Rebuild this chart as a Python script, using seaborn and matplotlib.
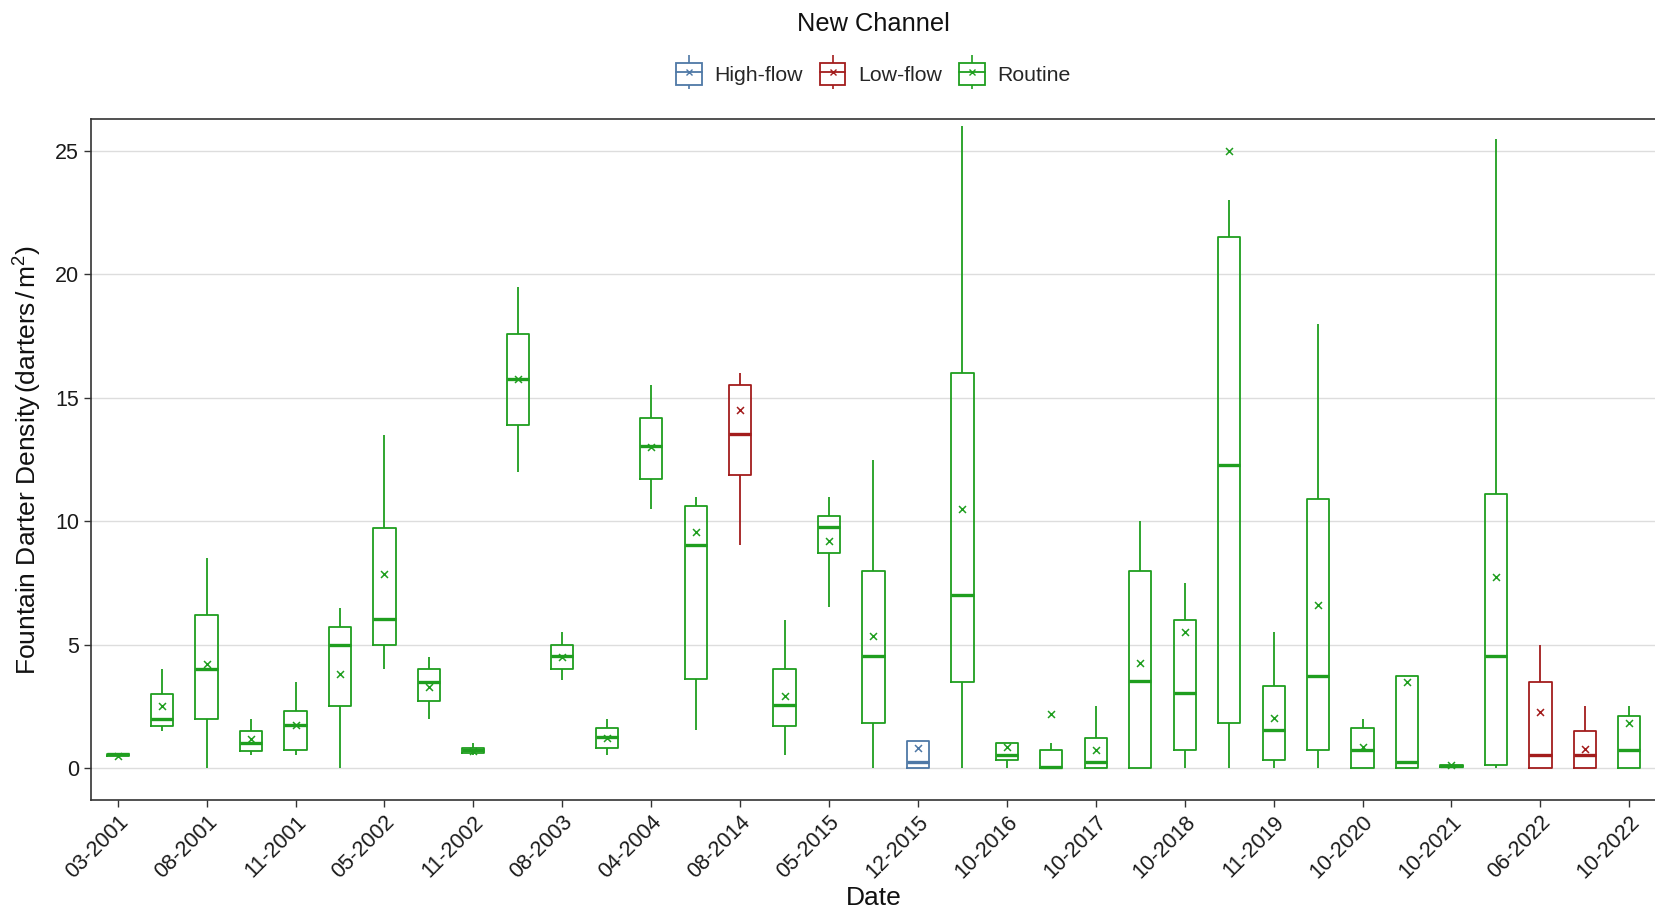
import numpy as np
import pandas as pd
import matplotlib
matplotlib.use("Agg")
import matplotlib.pyplot as plt
from matplotlib.patches import Patch
from matplotlib.lines import Line2D
from matplotlib.legend_handler import HandlerTuple
import seaborn as sns

dates = ["03-2001", "05-2001", "08-2001", "10-2001", "11-2001", "03-2002", "05-2002",
         "08-2002", "11-2002", "03-2003", "08-2003", "11-2003", "04-2004", "10-2004",
         "08-2014", "10-2014", "05-2015", "08-2015", "12-2015", "05-2016", "10-2016",
         "05-2017", "10-2017", "05-2018", "10-2018", "05-2019", "11-2019", "05-2020",
         "10-2020", "05-2021", "10-2021", "04-2022", "06-2022", "08-2022", "10-2022"]
sample_type = ["Routine"] * 14 + ["Low-flow"] + ["Routine"] * 3 + ["High-flow"] + \
              ["Routine"] * 13 + ["Low-flow", "Low-flow", "Routine"]

lows =    [0.45, 1.5, 0.0, 0.53, 0.53, 0.0, 4.0, 2.0, 0.53, 12.0, 3.55, 0.54, 10.5, 1.54,
           9.04, 0.53, 6.54, 0.0, 0.0, 0.0, 0.0, 0.0, 0.0, 0.0, 0.0, 0.0, 0.0, 0.0,
           0.0, 0.0, 0.0, 0.0, 0.0, 0.0, 0.0]
q1s =     [0.50, 1.7, 2.0, 0.70, 0.72, 2.5, 5.0, 2.7, 0.60, 13.9, 4.0, 0.81, 11.7, 3.6,
           11.86, 1.7, 8.73, 1.82, 0.0, 3.47, 0.32, 0.0, 0.0, 0.0, 0.72, 1.82, 0.32, 0.72,
           0.0, 0.0, 0.02, 0.1, 0.0, 0.0, 0.0]
medians = [0.55, 2.0, 4.0, 1.0, 1.75, 5.0, 6.04, 3.5, 0.74, 15.76, 4.54, 1.24, 13.05, 9.04,
           13.53, 2.53, 9.76, 4.53, 0.24, 7.0, 0.53, 0.03, 0.24, 3.51, 3.03, 12.26, 1.53, 3.74,
           0.74, 0.24, 0.07, 4.53, 0.51, 0.51, 0.74]
q3s =     [0.57, 3.0, 6.2, 1.5, 2.3, 5.7, 9.73, 4.0, 0.82, 17.6, 5.0, 1.6, 14.2, 10.6,
           15.5, 4.0, 10.2, 8.0, 1.1, 16.0, 1.0, 0.73, 1.22, 8.0, 6.01, 21.5, 3.34, 10.9,
           1.6, 3.72, 0.1, 11.1, 3.5, 1.5, 2.09]
highs =   [0.60, 4.0, 8.5, 2.0, 3.5, 6.5, 13.5, 4.5, 1.0, 19.5, 5.5, 2.0, 15.5, 11.0,
           16.0, 6.0, 11.0, 12.5, 1.1, 26.0, 1.0, 1.0, 2.5, 10.0, 7.51, 23.0, 5.5, 18.0,
           2.0, 3.72, 0.12, 25.5, 5.0, 2.5, 2.5]
means =   [0.47, 2.5, 4.2, 1.18, 1.75, 3.8, 7.85, 3.3, 0.7, 15.76, 4.5, 1.2, 13.0, 9.55,
           14.5, 2.9, 9.2, 5.36, 0.82, 10.49, 0.84, 2.2, 0.72, 4.27, 5.5, 25.0, 2.04, 6.62,
           0.86, 3.5, 0.1, 7.72, 2.28, 0.77, 1.82]

type_order = ["High-flow", "Low-flow", "Routine"]
palette = {"High-flow": "#4E78A6", "Low-flow": "#A31C1C", "Routine": "#1F9E1F"}

# long table: five summary values per date reproduce the box quantiles
rows = []
for d, t, a, b, c, e, f in zip(dates, sample_type, lows, q1s, medians, q3s, highs):
    for v in (a, b, c, e, f):
        rows.append({"Date": d, "Type": t, "Density": v})
df = pd.DataFrame(rows)
mean_df = pd.DataFrame({"Date": dates, "Type": sample_type, "Mean": means})

sns.set_theme(style="white")
plt.rcParams["font.family"] = ["Liberation Sans", "DejaVu Sans"]
plt.rcParams["mathtext.fontset"] = "custom"
plt.rcParams["mathtext.rm"] = "Liberation Sans"
plt.rcParams["mathtext.it"] = "Liberation Sans"

fig = plt.figure(figsize=(16.56, 9.10), dpi=100)
ax = fig.add_axes([91 / 1656, 1 - 800 / 910, (1656 - 91) / 1656, (800 - 119) / 910])

sns.boxplot(data=df, x="Date", y="Density", hue="Type", order=dates, hue_order=type_order,
            palette=palette, fill=False, width=0.5, dodge=False, whis=np.inf,
            showcaps=False, linewidth=1.3, ax=ax, legend=False,
            medianprops={"linewidth": 2.4})

for t in type_order:
    sub = mean_df[mean_df["Type"] == t]
    sns.stripplot(data=sub, x="Date", y="Mean", order=dates, color=palette[t],
                  marker="x", jitter=False, size=5, linewidth=1.1, ax=ax, legend=False)

ax.set_xlim(-0.6, len(dates) - 1 + 0.6)
ax.set_ylim(-1.3, 26.3)
ax.set_yticks([0, 5, 10, 15, 20, 25])
ax.yaxis.grid(True, color="#DDDDDD", linewidth=1.0)
ax.xaxis.grid(False)
ax.set_axisbelow(True)

tick_pos = list(range(0, len(dates), 2))
ax.set_xticks(tick_pos)
ax.set_xticklabels([dates[i] for i in tick_pos], rotation=45, ha="right",
                   rotation_mode="anchor", fontsize=15.5, color="#1a1a1a")
ax.tick_params(axis="y", labelsize=15.5, labelcolor="#1a1a1a")
ax.tick_params(axis="both", which="major", length=5, width=1, color="#333333",
               bottom=True, left=True)

for s in ax.spines.values():
    s.set_color("#333333")
    s.set_linewidth(1.2)
    s.set_visible(True)

ax.set_xlabel("Date", fontsize=19, color="#111111", labelpad=2)
ax.set_ylabel(r"Fountain Darter Density$\,$(darters$\,$/$\,$m$^{2}$)", fontsize=19,
              color="#111111", labelpad=8)

handles = []
for t in type_order:
    c = palette[t]
    whisk = Line2D([], [], color=c, marker="|", markersize=24, markeredgewidth=1.2,
                   linestyle="none")
    box = Patch(facecolor="white", edgecolor=c, linewidth=1.3)
    mid = Line2D([], [], color=c, linewidth=1.3, marker="x", markersize=4,
                 markeredgewidth=1.0)
    handles.append((whisk, box, mid))
ax.legend(handles, type_order, handler_map={tuple: HandlerTuple(ndivide=1, pad=0)},
          loc="center", bbox_to_anchor=(0.5, 1.066), ncol=3, frameon=False,
          fontsize=15.3, handlelength=1.2, handleheight=1.2, columnspacing=0.8,
          handletextpad=0.6)

fig.text(873 / 1656, 1 - 24 / 910, "New Channel", ha="center", va="center",
         fontsize=18.3, color="#111111")

fig.savefig("out.png", dpi=100)
